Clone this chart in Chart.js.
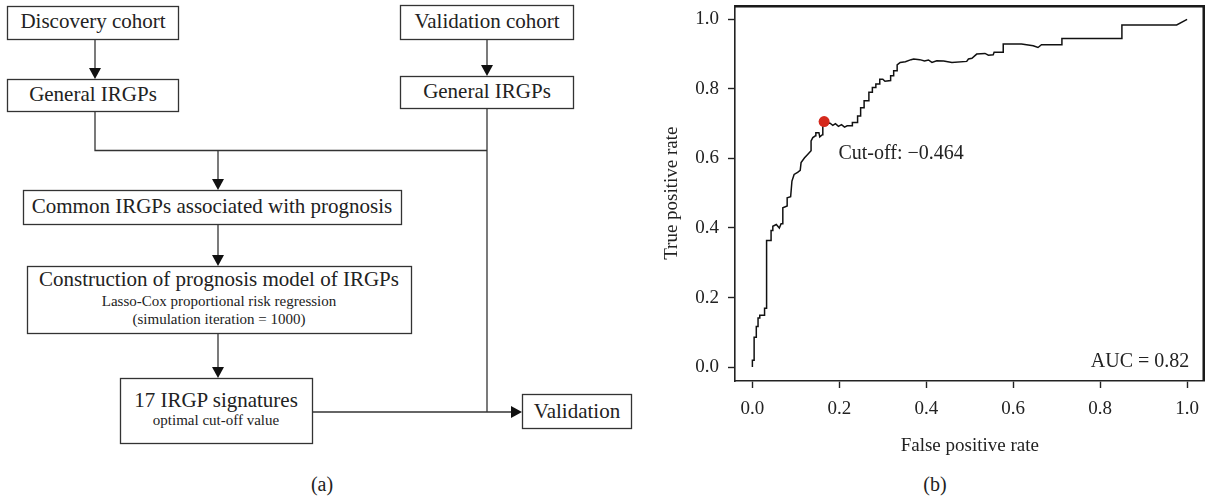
<!DOCTYPE html>
<html>
<head>
<meta charset="utf-8">
<script src="https://cdn.jsdelivr.net/npm/chart.js@4"></script>
<style>
  body { margin: 0; background: #fff; }
  #page { position: relative; width: 1207px; height: 496px; overflow: hidden; }
  #flow { position: absolute; left: 0; top: 0; }
  #flow text { font-family: "Liberation Serif", serif; fill: #222; }
  #rocBox { position: absolute; left: 620px; top: -15px; width: 590px; height: 485px; }
  #frame { position: absolute; box-sizing: border-box; border-top: 2px solid #1a1a1a; border-right: 2px solid #1a1a1a; pointer-events: none; }
</style>
</head>
<body>
<div id="page">
  <svg id="flow" width="1207" height="496">
    <g stroke="#333" stroke-width="1.3" fill="none">
      <rect x="7.5" y="6.5" width="171" height="33"/>
      <rect x="400.5" y="5.5" width="173" height="34"/>
      <rect x="7.5" y="79.5" width="171" height="32"/>
      <rect x="400.5" y="76.5" width="173" height="32"/>
      <rect x="23.5" y="190.5" width="378" height="34"/>
      <rect x="27.5" y="266.5" width="384" height="67"/>
      <rect x="120.5" y="378.5" width="192" height="65"/>
      <rect x="522.5" y="394.5" width="109" height="34"/>
      <line x1="95" y1="40" x2="95" y2="69"/>
      <line x1="487" y1="40" x2="487" y2="66"/>
      <polyline points="95,112 95,150.5 487,150.5"/>
      <line x1="487" y1="109" x2="487" y2="412"/>
      <line x1="218" y1="150" x2="218" y2="180"/>
      <line x1="218" y1="225" x2="218" y2="256"/>
      <line x1="218" y1="334" x2="218" y2="368"/>
      <line x1="313" y1="412" x2="512" y2="412"/>
    </g>
    <g fill="#111">
      <polygon points="89,68 101,68 95,79"/>
      <polygon points="481,65 493,65 487,76"/>
      <polygon points="212,179 224,179 218,190"/>
      <polygon points="212,255 224,255 218,266"/>
      <polygon points="212,367 224,367 218,378"/>
      <polygon points="511,406 511,418 522,412"/>
    </g>
    <g text-anchor="middle" font-size="21">
      <text x="93" y="28">Discovery cohort</text>
      <text x="487" y="28">Validation cohort</text>
      <text x="93" y="101">General IRGPs</text>
      <text x="487" y="98">General IRGPs</text>
      <text x="212" y="213">Common IRGPs associated with prognosis</text>
      <text x="219" y="286">Construction of prognosis model of IRGPs</text>
      <text x="219" y="306" font-size="15">Lasso-Cox proportional risk regression</text>
      <text x="219" y="324" font-size="15">(simulation iteration = 1000)</text>
      <text x="216" y="407">17 IRGP signatures</text>
      <text x="216" y="425" font-size="15">optimal cut-off value</text>
      <text x="577" y="418">Validation</text>
      <text x="322" y="491" font-size="20">(a)</text>
      <text x="935" y="491" font-size="20">(b)</text>
    </g>
  </svg>
  <div id="rocBox"><canvas id="rocChart"></canvas></div>
  <div id="frame"></div>
</div>
<script>
const xTickVals = [0, 0.2, 0.4, 0.6, 0.8, 1.0];
const yTickVals = [0, 0.2, 0.4, 0.6, 0.8, 1.0];

const fpr = [
  0.000, 0.000, 0.004, 0.004, 0.009, 0.009, 0.013, 0.013, 0.017, 0.017,
  0.028, 0.028, 0.032, 0.032, 0.033, 0.033, 0.043, 0.043, 0.047, 0.047,
  0.055, 0.062, 0.066, 0.070, 0.070, 0.080, 0.080, 0.088, 0.091, 0.096,
  0.104, 0.110, 0.112, 0.120, 0.126, 0.135, 0.135, 0.139, 0.145, 0.146,
  0.153, 0.155, 0.161, 0.162, 0.165, 0.172, 0.178, 0.185, 0.191, 0.198,
  0.205, 0.212, 0.218, 0.230, 0.230, 0.242, 0.242, 0.249, 0.249, 0.257,
  0.257, 0.268, 0.268, 0.276, 0.276, 0.284, 0.284, 0.293, 0.293, 0.300,
  0.305, 0.318, 0.318, 0.325, 0.325, 0.333, 0.333, 0.340, 0.352, 0.365,
  0.371, 0.385, 0.396, 0.405, 0.413, 0.424, 0.440, 0.459, 0.493, 0.497,
  0.505, 0.516, 0.535, 0.543, 0.554, 0.556, 0.577, 0.577, 0.619, 0.646,
  0.657, 0.665, 0.712, 0.712, 0.850, 0.850, 0.976, 1.000
];
const tpr = [
  0.000, 0.020, 0.020, 0.086, 0.086, 0.117, 0.117, 0.141, 0.141, 0.149,
  0.149, 0.169, 0.169, 0.333, 0.333, 0.364, 0.364, 0.393, 0.393, 0.405,
  0.410, 0.400, 0.412, 0.412, 0.458, 0.463, 0.487, 0.490, 0.535, 0.554,
  0.560, 0.566, 0.588, 0.602, 0.610, 0.622, 0.650, 0.660, 0.665, 0.674,
  0.674, 0.662, 0.668, 0.690, 0.706, 0.700, 0.702, 0.695, 0.700, 0.692,
  0.697, 0.690, 0.694, 0.694, 0.703, 0.703, 0.722, 0.722, 0.746, 0.746,
  0.766, 0.766, 0.790, 0.790, 0.804, 0.804, 0.814, 0.814, 0.828, 0.828,
  0.822, 0.824, 0.838, 0.838, 0.852, 0.852, 0.869, 0.876, 0.878, 0.884,
  0.886, 0.884, 0.880, 0.883, 0.876, 0.881, 0.880, 0.876, 0.879, 0.886,
  0.888, 0.900, 0.902, 0.897, 0.898, 0.905, 0.905, 0.929, 0.929, 0.924,
  0.919, 0.927, 0.927, 0.945, 0.945, 0.984, 0.984, 1.000
];

const cutoffFpr = [0.165];
const cutoffTpr = [0.706];
const cutoffLabel = 'Cut-off: \u22120.464';
const cutoffLabelAt = [0.198, 0.613];
const aucLabel = 'AUC = 0.82';
const aucLabelAt = [1.005, 0.016];

const serif = '"Liberation Serif", "Times New Roman", serif';
const axisColor = '#222';

const rocPoints = fpr.map((v, i) => ({ x: v, y: tpr[i] }));
const cutoffPoints = cutoffFpr.map((v, i) => ({ x: v, y: cutoffTpr[i] }));

// text notes inside the plot, and the top/right sides of the box
const notesPlugin = {
    id: 'notes',
    afterDraw(chart) {
        const { ctx, scales, chartArea } = chart;
        ctx.save();
        ctx.strokeStyle = '#111';
        ctx.lineWidth = 2;
        ctx.beginPath();
        ctx.moveTo(chartArea.left, chartArea.top + 1);
        ctx.lineTo(chartArea.right - 1, chartArea.top + 1);
        ctx.lineTo(chartArea.right - 1, chartArea.bottom);
        ctx.stroke();

        ctx.fillStyle = '#222';
        ctx.font = '20px ' + serif;
        ctx.textBaseline = 'middle';
        ctx.textAlign = 'left';
        ctx.fillText(cutoffLabel, scales.x.getPixelForValue(cutoffLabelAt[0]), scales.y.getPixelForValue(cutoffLabelAt[1]));
        ctx.textAlign = 'right';
        ctx.fillText(aucLabel, scales.x.getPixelForValue(aucLabelAt[0]), scales.y.getPixelForValue(aucLabelAt[1]));
        ctx.restore();
    }
};

const tickFont = { family: serif, size: 19 };

const rocChart = new Chart(document.getElementById('rocChart').getContext('2d'), {
    type: 'scatter',
    data: {
        datasets: [
            {
                label: 'ROC',
                data: rocPoints,
                showLine: true,
                borderColor: '#111',
                borderWidth: 1.5,
                pointRadius: 0,
                tension: 0,
                order: 2
            },
            {
                label: 'Cut-off',
                data: cutoffPoints,
                pointRadius: 5.5,
                pointBackgroundColor: '#d5291d',
                pointBorderWidth: 0,
                order: 1
            }
        ]
    },
    options: {
        responsive: true,
        maintainAspectRatio: false,
        animation: false,
        layout: { padding: { top: 5, right: 1, left: 0, bottom: 0 } },
        scales: {
            x: {
                type: 'linear',
                min: -0.04,
                max: 1.04,
                afterBuildTicks: axis => { axis.ticks = xTickVals.map(v => ({ value: v })); },
                afterFit: axis => { axis.height = 89; },
                ticks: {
                    font: tickFont,
                    color: '#222',
                    padding: 10,
                    maxRotation: 0,
                    autoSkip: false,
                    callback: v => v.toFixed(1)
                },
                grid: { drawOnChartArea: false, tickLength: 7, tickWidth: 1.4, tickColor: axisColor },
                border: { color: axisColor, width: 1.6 },
                title: {
                    display: true,
                    text: 'False positive rate',
                    font: tickFont,
                    color: '#222',
                    padding: { top: 0, bottom: 13 }
                }
            },
            y: {
                type: 'linear',
                min: -0.04,
                max: 1.04,
                afterBuildTicks: axis => { axis.ticks = yTickVals.map(v => ({ value: v })); },
                afterFit: axis => { axis.width = 115; },
                ticks: {
                    font: tickFont,
                    color: '#222',
                    padding: 9,
                    autoSkip: false,
                    callback: v => v.toFixed(1)
                },
                grid: { drawOnChartArea: false, tickLength: 7, tickWidth: 1.4, tickColor: axisColor },
                border: { color: axisColor, width: 1.6 },
                title: {
                    display: true,
                    text: 'True positive rate',
                    font: tickFont,
                    color: '#222',
                    padding: { top: 41, bottom: 0 }
                }
            }
        },
        plugins: {
            legend: { display: false },
            tooltip: { enabled: false }
        }
    },
    plugins: [notesPlugin]
});

// place the box outline over the chart area that Chart.js worked out
function placeFrame() {
    const area = rocChart.chartArea;
    const box = document.getElementById('rocBox');
    const frame = document.getElementById('frame');
    if (!area) return;
    frame.style.left = (box.offsetLeft + area.left) + 'px';
    frame.style.top = (box.offsetTop + area.top) + 'px';
    frame.style.width = Math.min(area.right - area.left, 1207 - box.offsetLeft - area.left - 1) + 'px';
    frame.style.height = (area.bottom - area.top) + 'px';
}
placeFrame();
window.addEventListener('load', placeFrame);
</script>
</body>
</html>
